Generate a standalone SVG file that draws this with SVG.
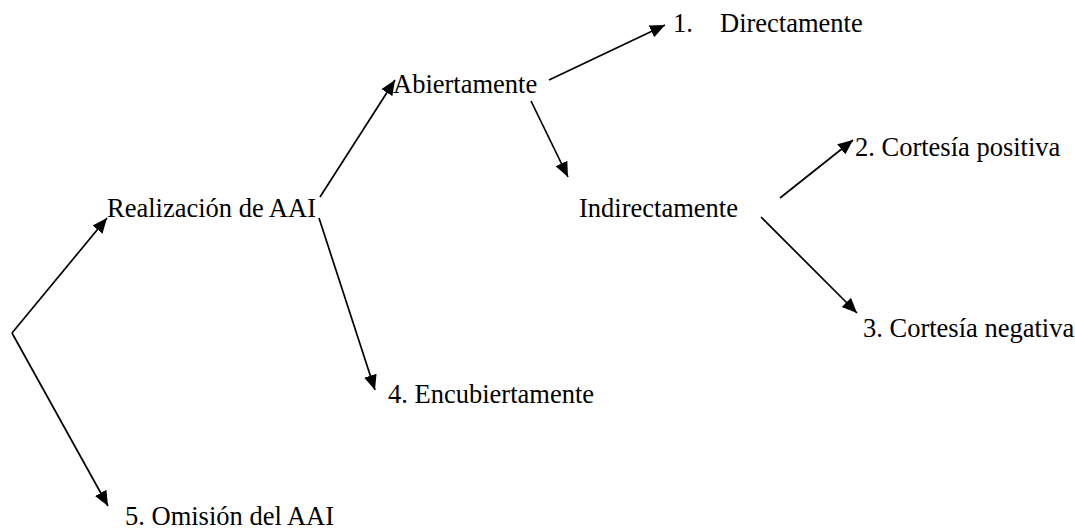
<svg xmlns="http://www.w3.org/2000/svg" width="1075" height="529" viewBox="0 0 1075 529">
<style>
text { font-family: "Liberation Serif", "Times New Roman", serif; font-size: 26.5px; fill: #000; }
.c line { stroke: #000; stroke-width: 1.7; fill: none; }
</style>
<defs>
<marker id="ah" markerUnits="userSpaceOnUse" markerWidth="16" markerHeight="14" refX="15" refY="6.5" orient="auto">
<path d="M0,0 L15,6.5 L0,13 Z" fill="#000"/>
</marker>
</defs>
<rect width="1075" height="529" fill="#fff"/>
<g class="c" id="connectors">
<line x1="12" y1="333" x2="107" y2="218" marker-end="url(#ah)"/>
<line x1="12" y1="333" x2="108" y2="506" marker-end="url(#ah)"/>
<line x1="320" y1="197" x2="395" y2="80" marker-end="url(#ah)"/>
<line x1="549" y1="80" x2="665" y2="25" marker-end="url(#ah)"/>
<line x1="531" y1="101" x2="568" y2="177" marker-end="url(#ah)"/>
<line x1="319" y1="218" x2="375" y2="390" marker-end="url(#ah)"/>
<line x1="780" y1="198" x2="853" y2="140" marker-end="url(#ah)"/>
<line x1="761" y1="217" x2="857" y2="313" marker-end="url(#ah)"/>
</g>
<g id="n-realizacion"><text x="107" y="217">Realización de AAI</text></g>
<g id="n-abiertamente"><text x="393" y="93">Abiertamente</text></g>
<g id="n-directamente"><text x="673" y="32">1.</text><text x="720" y="32">Directamente</text></g>
<g id="n-indirectamente"><text x="579" y="217">Indirectamente</text></g>
<g id="n-positiva"><text x="855" y="156">2. Cortesía positiva</text></g>
<g id="n-negativa"><text x="863" y="337">3. Cortesía negativa</text></g>
<g id="n-encubiertamente"><text x="388" y="403">4. Encubiertamente</text></g>
<g id="n-omision"><text x="125" y="525">5. Omisión del AAI</text></g>
</svg>
